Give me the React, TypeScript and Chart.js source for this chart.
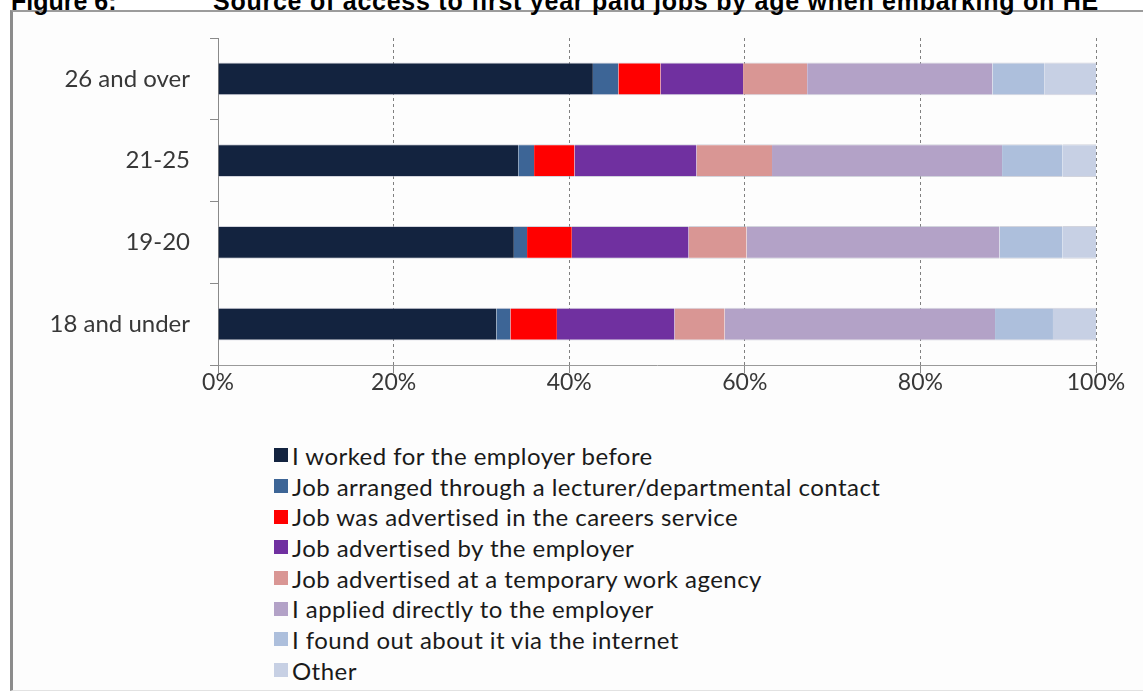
import React, { useEffect, useRef } from "react";
import { Chart, registerables } from "chart.js";

Chart.register(...registerables);

// Age groups when embarking on HE (top to bottom)
const ageGroups = ["26 and over", "21-25", "19-20", "18 and under"];

// Source of access to first year paid job, share of each age group (%)
const workedBefore = [42.7, 34.2, 33.7, 31.7];
const lecturerContact = [2.9, 1.8, 1.5, 1.6];
const careersService = [4.8, 4.6, 5.1, 5.3];
const employerAdvert = [9.4, 13.9, 13.3, 13.4];
const agencyAdvert = [7.3, 8.6, 6.6, 5.7];
const appliedDirectly = [21.1, 26.2, 28.8, 30.8];
const viaInternet = [5.9, 6.9, 7.2, 6.6];
const otherSource = [5.9, 3.8, 3.8, 4.9];

const sourceLabels = [
  "I worked for the employer before",
  "Job arranged through a lecturer/departmental contact",
  "Job was advertised in the careers service",
  "Job advertised by the employer",
  "Job advertised at a temporary work agency",
  "I applied directly to the employer",
  "I found out about it via the internet",
  "Other",
];

const sourceColors = [
  "#13233f",
  "#3d6596",
  "#ff0000",
  "#7030a0",
  "#d99694",
  "#b3a2c7",
  "#adbfdc",
  "#c7d0e4",
];

const percentTicks = [0, 20, 40, 60, 80, 100];

const titleFigure = "Figure 6:";
const titleText =
  "Source of access to first year paid jobs by age when embarking on HE";

const FONT = "Lato, 'Open Sans', sans-serif";

export default function App() {
  const canvasRef = useRef<HTMLCanvasElement | null>(null);

  useEffect(() => {
    const canvas = canvasRef.current;
    if (!canvas) return;
    const seriesValues = [
      workedBefore,
      lecturerContact,
      careersService,
      employerAdvert,
      agencyAdvert,
      appliedDirectly,
      viaInternet,
      otherSource,
    ];
    const chart = new Chart(canvas, {
      type: "bar",
      data: {
        labels: ageGroups,
        datasets: seriesValues.map((values, i) => ({
          label: sourceLabels[i],
          data: values,
          backgroundColor: sourceColors[i],
          borderColor: "rgba(175,178,195,0.55)",
          borderWidth: { top: 1, bottom: 1, left: 0, right: 0 },
          borderSkipped: false,
          categoryPercentage: 0.8,
          barPercentage: 0.5,
        })),
      },
      options: {
        indexAxis: "y",
        animation: false,
        responsive: false,
        maintainAspectRatio: false,
        devicePixelRatio: 1,
        layout: { padding: { top: 38, right: 47, left: 0, bottom: 0 } },
        plugins: {
          legend: { display: false },
          tooltip: { enabled: false },
          title: { display: false },
        },
        scales: {
          x: {
            stacked: true,
            min: 0,
            max: 100,
            afterFit: (s: any) => {
              s.height = 35;
            },
            afterBuildTicks: (s: any) => {
              s.ticks = percentTicks.map((v) => ({ value: v }));
            },
            ticks: {
              callback: (v: any) => `${v}%`,
              font: { family: FONT, size: 23 },
              color: "#383838",
              padding: -4,
              maxRotation: 0,
            },
            grid: {
              color: "#808080",
              lineWidth: 1,
              drawTicks: true,
              tickLength: 8,
              tickColor: "#8a8a8a",
              tickBorderDash: [],
            },
            border: { display: true, color: "#9a9a9a", width: 1, dash: [3, 3] },
          },
          y: {
            stacked: true,
            afterFit: (s: any) => {
              s.width = 218;
            },
            ticks: {
              font: { family: FONT, size: 24 },
              color: "#383838",
              padding: 20,
            },
            grid: {
              offset: true,
              drawOnChartArea: false,
              drawTicks: true,
              tickLength: 8,
              color: "#8a8a8a",
            },
            border: { display: true, color: "#8a8a8a", width: 1 },
          },
        },
      },
    });
    return () => chart.destroy();
  }, []);

  const titleStyle: React.CSSProperties = {
    position: "absolute",
    top: -11,
    font: "bold 25px 'Liberation Sans', Arial, sans-serif",
    lineHeight: "25px",
    whiteSpace: "pre",
    color: "#000",
  };

  return (
    <div
      style={{
        position: "absolute",
        left: 0,
        top: 0,
        width: 1143,
        height: 695,
        overflow: "hidden",
        background: "#ffffff",
      }}
    >
      <div
        style={{
          position: "absolute",
          left: 10,
          top: 10,
          width: 1150,
          height: 678,
          borderLeft: "3px solid #8c8c8c",
          borderTop: "2px solid #9c9c9c",
          borderBottom: "1px solid #e2e2e2",
          background: "#fdfdfd",
        }}
      />
      <div style={{ ...titleStyle, left: 11 }}>{titleFigure}</div>
      <div style={{ ...titleStyle, left: 213, letterSpacing: "0.75px" }}>
        {titleText}
      </div>
      <canvas
        ref={canvasRef}
        width={1143}
        height={400}
        style={{ position: "absolute", left: 0, top: 0, width: 1143, height: 400 }}
      />
      <div style={{ position: "absolute", left: 274, top: 440 }}>
        {sourceLabels.map((label, i) => (
          <div
            key={label}
            style={{
              display: "flex",
              alignItems: "center",
              height: 30.7,
              fontFamily: FONT,
              fontSize: 24,
              letterSpacing: "0.45px",
              color: "#1a1a1a",
              whiteSpace: "nowrap",
            }}
          >
            <span
              style={{
                display: "inline-block",
                width: 14,
                height: 14,
                background: sourceColors[i],
                marginRight: 4,
              }}
            />
            <span>{label}</span>
          </div>
        ))}
      </div>
    </div>
  );
}
